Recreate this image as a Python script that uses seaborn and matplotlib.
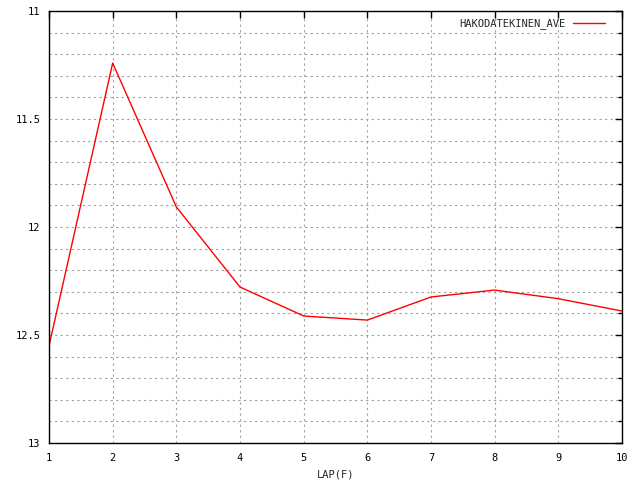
import matplotlib
matplotlib.use("Agg")
import matplotlib.pyplot as plt
import numpy as np
import pandas as pd
import seaborn as sns
from matplotlib.ticker import MultipleLocator

laps = [1, 2, 3, 4, 5, 6, 7, 8, 9, 10]
ave_times = [12.551, 11.241, 11.907, 12.278, 12.412, 12.431, 12.324, 12.292, 12.332, 12.389]
series_name = "HAKODATEKINEN_AVE"

df = pd.DataFrame({"lap": laps, "time": ave_times, "series": series_name})

sns.set_theme(style="white")
plt.rcParams["font.family"] = ["DejaVu Sans Mono", "DejaVu Sans"]
plt.rcParams["font.size"] = 7.5

fig = plt.figure(figsize=(6.4, 4.8), dpi=100)
ax = fig.add_axes([49 / 640, 37 / 480, 573 / 640, 432 / 480])

sns.lineplot(data=df, x="lap", y="time", hue="series", palette=["red"],
             linewidth=1, ax=ax)

ax.set_xlim(1, 10)
ax.set_ylim(13, 11)
ax.xaxis.set_major_locator(MultipleLocator(1))
ax.yaxis.set_major_locator(MultipleLocator(0.5))
ax.yaxis.set_minor_locator(MultipleLocator(0.1))
ax.set_yticklabels([f"{v:g}" for v in ax.get_yticks()])

ax.grid(True, which="both", color="#a0a0a0", linestyle=(0, (2, 3)), linewidth=0.8)
ax.tick_params(which="both", direction="in", top=True, right=True,
               colors="black", labelsize=7.5, width=1)
ax.tick_params(which="major", length=5)
ax.tick_params(which="minor", length=3, top=False)
ax.tick_params(axis="x", which="minor", bottom=False, top=False)
ax.tick_params(axis="x", pad=7)
ax.tick_params(axis="y", pad=6)
for s in ax.spines.values():
    s.set_color("black")
    s.set_linewidth(1)

ax.set_xlabel("LAP(F)", fontsize=7.5, labelpad=5)
ax.set_ylabel("")

ax.legend(loc="upper right", frameon=False, markerfirst=False, title=None,
          fontsize=7.5, handlelength=3.0, handletextpad=0.8,
          borderaxespad=0.3, borderpad=0.4)
leg = ax.get_legend()
leg.set_bbox_to_anchor((1 - 10 / 573, 1), transform=ax.transAxes)

fig.savefig("out.png", dpi=100)
